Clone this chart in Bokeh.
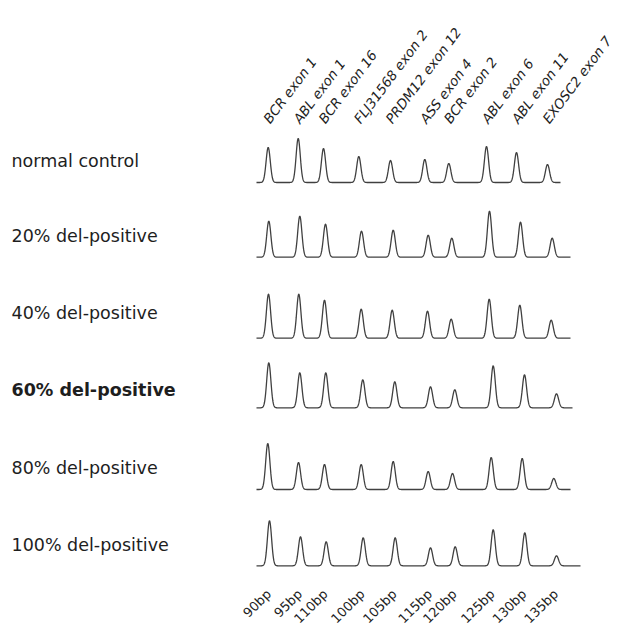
import numpy as np
from bokeh.plotting import figure
from bokeh.models import Range1d, ColumnDataSource
from bokeh.core.properties import value
from bokeh.embed import file_html
from bokeh.resources import INLINE

# ---- data ----
row_labels = ["normal control", "20% del-positive", "40% del-positive",
              "60% del-positive", "80% del-positive", "100% del-positive"]
probe_labels = ["BCR exon 1", "ABL exon 1", "BCR exon 16", "FLJ31568 exon 2",
                "PRDM12 exon 12", "ASS exon 4", "BCR exon 2", "ABL exon 6",
                "ABL exon 11", "EXOSC2 exon 7"]
size_labels = ["90bp", "95bp", "110bp", "100bp", "105bp", "115bp",
               "120bp", "125bp", "130bp", "135bp"]

# peak positions (migration units) per sample
pos_normal = [267.7, 297.7, 323.0, 358.3, 390.0, 424.3, 448.3, 486.0, 516.0, 547.0]
pos_20 = [268.3, 299.3, 325.0, 361.0, 392.7, 427.7, 451.3, 489.0, 520.0, 551.7]
pos_40 = [268.0, 298.3, 324.0, 360.7, 391.7, 427.0, 450.7, 488.7, 519.3, 550.7]
pos_60 = [268.3, 299.3, 325.3, 362.3, 394.3, 430.0, 454.3, 492.7, 524.0, 556.0]
pos_80 = [267.3, 298.0, 324.0, 360.7, 392.7, 427.7, 452.0, 490.7, 521.7, 553.3]
pos_100 = [269.0, 300.0, 325.7, 362.7, 394.7, 430.0, 454.7, 492.7, 524.3, 556.0]

# peak heights (signal units) per sample
h_normal = [35, 44, 34, 26, 22, 23, 19, 36, 30, 18]
h_20 = [36, 41, 33, 26, 27, 22, 19, 46, 35, 19]
h_40 = [44, 44, 38, 29, 28, 27, 19, 39, 33, 18]
h_60 = [45, 35, 35, 28, 26, 21, 18, 42, 33, 14]
h_80 = [46, 27, 25, 25, 28, 18, 16, 32, 31, 11]
h_100 = [45, 29, 24, 28, 28, 18, 19, 36, 33, 10]

trace_end = [560, 570, 570, 572, 570, 580]
trace_start = 256

positions = [pos_normal, pos_20, pos_40, pos_60, pos_80, pos_100]
heights = [h_normal, h_20, h_40, h_60, h_80, h_100]

# ---- layout ----
row_base = [182.0, 256.7, 337.7, 407.3, 489.0, 565.3]
label_base = [160.5, 235.5, 312.0, 389.0, 467.0, 544.0]
W, H = 617, 628

p = figure(width=W, height=H, x_range=Range1d(0, W), y_range=Range1d(-H, 0),
           output_backend="svg", toolbar_location=None, min_border=0)
p.axis.visible = False
p.grid.visible = False
p.outline_line_color = None
p.background_fill_color = "white"

sigma = 2.1
for i in range(6):
    xs = np.linspace(trace_start, trace_end[i], 1400)
    ys = np.zeros_like(xs)
    for px, ph in zip(positions[i], heights[i]):
        ys += ph * np.exp(-0.5 * ((xs - px) / sigma) ** 2)
    p.line(xs, -(row_base[i] - ys), line_color="#404040", line_width=1.3)

# left sample labels
for i, lab in enumerate(row_labels):
    p.text(x=[11], y=[-label_base[i]], text=[lab], text_font=value("DejaVu Sans"),
           text_font_size="17.5px", text_color="#1e1e1e", text_baseline="alphabetic",
           text_align="left", text_font_style="bold" if i == 3 else "normal")

# top probe labels
top = ColumnDataSource(dict(x=[v - 2 for v in pos_normal], y=[-121] * 10, t=probe_labels))
p.text(x="x", y="y", text="t", source=top, angle=53, angle_units="deg",
       text_font=value("DejaVu Sans"), text_font_size="13.5px", text_font_style="italic",
       text_color="#1e1e1e", text_align="left", text_baseline="alphabetic")

# bottom size labels
bot = ColumnDataSource(dict(x=[v - 6 for v in pos_100], y=[-586] * 10, t=size_labels))
p.text(x="x", y="y", text="t", source=bot, angle=45, angle_units="deg",
       text_font=value("DejaVu Sans"), text_font_size="13px",
       text_color="#1e1e1e", text_align="right", text_baseline="top")

open("out.html", "w").write(file_html(p, INLINE))
